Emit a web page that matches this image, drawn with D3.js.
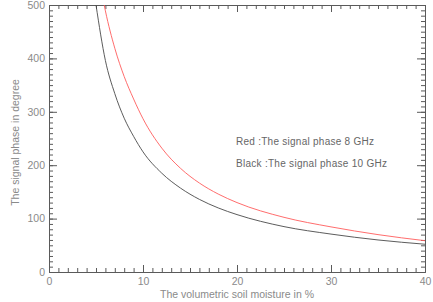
<!DOCTYPE html>
<html><head><meta charset="utf-8">
<script src="https://cdn.jsdelivr.net/npm/d3@7/dist/d3.min.js"></script>
<style>body{margin:0;background:#fff}svg{display:block}text{font-family:"Liberation Sans",Arial,sans-serif}</style>
</head><body>
<script>
const moisture = [5, 6, 7, 8, 9, 10, 12, 14, 16, 18, 20, 25, 30, 35, 40];
const phase10GHz = [500, 396, 334, 288, 254, 225, 185, 157, 136, 120, 107.5, 85, 71, 60, 52];
const moistureRed = [5.5, 6, 7, 8, 9, 10, 12, 14, 16, 18, 20, 25, 30, 35, 40];
const phase8GHz = [534, 489, 419, 366, 324, 287, 232, 194, 166.6, 146, 130, 102.4, 84.5, 70, 58.6];
const xTicks = [0, 10, 20, 30, 40];
const yTicks = [0, 100, 200, 300, 400, 500];
const legendLines = ["Red :The signal phase 8 GHz", "Black :The signal phase 10 GHz"];
const xTitle = "The volumetric soil moisture in %";
const yTitle = "The signal phase in degree";

const W = 433, H = 302;
const L = 49, R = 425, T = 5, B = 272;
const svg = d3.select("body").append("svg").attr("width", W).attr("height", H);
const x = d3.scaleLinear().domain([0, 40]).range([L, R]);
const y = d3.scaleLinear().domain([0, 500]).range([B, T]);
const axisCol = "#5a5a5a", labCol = "#8a8a8a";

svg.append("clipPath").attr("id", "clip").append("rect")
  .attr("x", L).attr("y", T).attr("width", R - L).attr("height", B - T);

function styleAxis(g) {
  g.select(".domain").attr("stroke", axisCol);
  g.selectAll(".tick line").attr("stroke", axisCol);
  g.selectAll("text").attr("fill", labCol).attr("font-size", "10.5px");
}
const xMinor = d3.range(0, 41, 1), yMinor = d3.range(0, 501, 10);
// bottom
svg.append("g").attr("transform", `translate(0,${B})`)
  .call(d3.axisBottom(x).tickValues(xMinor).tickSize(-4).tickSizeOuter(0).tickFormat("")).call(styleAxis);
svg.append("g").attr("transform", `translate(0,${B})`)
  .call(d3.axisBottom(x).tickValues(xTicks).tickSize(-7).tickSizeOuter(0).tickPadding(6).tickFormat(d3.format("d")))
  .call(styleAxis);
// top
svg.append("g").attr("transform", `translate(0,${T})`)
  .call(d3.axisTop(x).tickValues(xMinor).tickSize(-4).tickSizeOuter(0).tickFormat("")).call(styleAxis);
svg.append("g").attr("transform", `translate(0,${T})`)
  .call(d3.axisTop(x).tickValues(xTicks).tickSize(-7).tickSizeOuter(0).tickFormat("")).call(styleAxis);
// left
svg.append("g").attr("transform", `translate(${L},0)`)
  .call(d3.axisLeft(y).tickValues(yMinor).tickSize(-4).tickSizeOuter(0).tickFormat("")).call(styleAxis);
svg.append("g").attr("transform", `translate(${L},0)`)
  .call(d3.axisLeft(y).tickValues(yTicks).tickSize(-8).tickSizeOuter(0).tickPadding(4).tickFormat(d3.format("d")))
  .call(styleAxis);
// right
svg.append("g").attr("transform", `translate(${R},0)`)
  .call(d3.axisRight(y).tickValues(yMinor).tickSize(-4).tickSizeOuter(0).tickFormat("")).call(styleAxis);
svg.append("g").attr("transform", `translate(${R},0)`)
  .call(d3.axisRight(y).tickValues(yTicks).tickSize(-8).tickSizeOuter(0).tickFormat("")).call(styleAxis);

const line = d3.line().curve(d3.curveMonotoneX);
const g = svg.append("g").attr("clip-path", "url(#clip)");
g.append("path").attr("d", line(moistureRed.map((m, i) => [x(m), y(phase8GHz[i])])))
  .attr("fill", "none").attr("stroke", "#ff5c5c").attr("stroke-width", 0.9);
g.append("path").attr("d", line(moisture.map((m, i) => [x(m), y(phase10GHz[i])])))
  .attr("fill", "none").attr("stroke", "#4a4a4a").attr("stroke-width", 0.9);

svg.append("text").attr("x", (L + R) / 2).attr("y", 298).attr("text-anchor", "middle")
  .attr("fill", labCol).attr("font-size", "10.5px").text(xTitle);
svg.append("text").attr("transform", `translate(19,${(T + B) / 2 + 4}) rotate(-90)`)
  .attr("text-anchor", "middle").attr("fill", labCol).attr("font-size", "10.5px").text(yTitle);

const legendWidths = [138, 151];
svg.selectAll(".leg").data(legendLines).enter().append("text")
  .attr("x", 236).attr("y", (d, i) => 145 + i * 22)
  .attr("textLength", (d, i) => legendWidths[i]).attr("lengthAdjust", "spacing")
  .attr("fill", "#666").attr("font-size", "10px").text(d => d);
</script>
</body></html>
